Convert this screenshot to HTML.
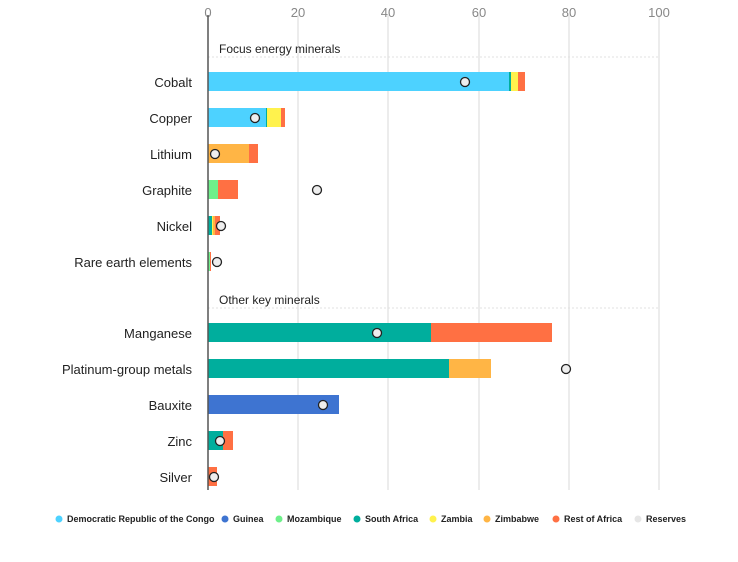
<!DOCTYPE html>
<html><head><style>body{margin:0;background:#fff}svg{display:block;font-family:"Liberation Sans",sans-serif}</style></head><body>
<svg width="738" height="562" viewBox="0 0 738 562">
<g stroke="#e6e6e6" stroke-width="1.5">
<line x1="298" y1="15" x2="298" y2="490"/><line x1="388" y1="15" x2="388" y2="490"/><line x1="479" y1="15" x2="479" y2="490"/><line x1="569" y1="15" x2="569" y2="490"/><line x1="659" y1="15" x2="659" y2="490"/>
</g>
<g stroke="#e0e0e0" stroke-dasharray="2,2"><line x1="208" y1="57" x2="659" y2="57"/><line x1="208" y1="308" x2="659" y2="308"/></g>
<g font-size="13" fill="#888" text-anchor="middle"><text x="208" y="17">0</text><text x="298" y="17">20</text><text x="388" y="17">40</text><text x="479" y="17">60</text><text x="569" y="17">80</text><text x="659" y="17">100</text></g>
<g font-size="12" fill="#222"><text x="219" y="53">Focus energy minerals</text><text x="219" y="304">Other key minerals</text></g>
<g font-size="13" fill="#222" text-anchor="end">
<text x="192" y="87">Cobalt</text><text x="192" y="123">Copper</text><text x="192" y="159">Lithium</text><text x="192" y="195">Graphite</text><text x="192" y="231">Nickel</text><text x="192" y="267">Rare earth elements</text>
<text x="192" y="338">Manganese</text><text x="192" y="374">Platinum-group metals</text><text x="192" y="410">Bauxite</text><text x="192" y="446">Zinc</text><text x="192" y="482">Silver</text></g>
<g>
<rect x="208" y="72" width="301" height="19" fill="#4dd2ff"/><rect x="509" y="72" width="2" height="19" fill="#00ae9d"/><rect x="511" y="72" width="7" height="19" fill="#fff24d"/><rect x="518" y="72" width="7" height="19" fill="#ff7043"/>
<rect x="208" y="108" width="58" height="19" fill="#4dd2ff"/><rect x="266" y="108" width="1" height="19" fill="#00ae9d"/><rect x="267" y="108" width="14" height="19" fill="#fff24d"/><rect x="281" y="108" width="4" height="19" fill="#ff7043"/>
<rect x="208" y="144" width="41" height="19" fill="#ffb545"/><rect x="249" y="144" width="9" height="19" fill="#ff7043"/>
<rect x="208" y="180" width="10" height="19" fill="#6ef08a"/><rect x="218" y="180" width="20" height="19" fill="#ff7043"/>
<rect x="208" y="216" width="4" height="19" fill="#00ae9d"/><rect x="212" y="216" width="1" height="19" fill="#fff24d"/><rect x="213" y="216" width="2" height="19" fill="#ffb545"/><rect x="215" y="216" width="5" height="19" fill="#ff7043"/>
<rect x="208" y="252" width="2" height="19" fill="#6ef08a"/><rect x="210" y="252" width="1" height="19" fill="#ff7043"/>
<rect x="208" y="323" width="223" height="19" fill="#00ae9d"/><rect x="431" y="323" width="121" height="19" fill="#ff7043"/>
<rect x="208" y="359" width="241" height="19" fill="#00ae9d"/><rect x="449" y="359" width="42" height="19" fill="#ffb545"/>
<rect x="208" y="395" width="131" height="19" fill="#3e74d1"/>
<rect x="208" y="431" width="15" height="19" fill="#00ae9d"/><rect x="223" y="431" width="10" height="19" fill="#ff7043"/>
<rect x="208" y="467" width="9" height="19" fill="#ff7043"/>
</g>
<line x1="208" y1="15" x2="208" y2="490" stroke="#555" stroke-width="1.5"/>
<g fill="#eee" stroke="#222" stroke-width="1.3">
<circle cx="465" cy="82" r="4.5"/><circle cx="255" cy="118" r="4.5"/><circle cx="215" cy="154" r="4.5"/><circle cx="317" cy="190" r="4.5"/><circle cx="221" cy="226" r="4.5"/><circle cx="217" cy="262" r="4.5"/>
<circle cx="377" cy="333" r="4.5"/><circle cx="566" cy="369" r="4.5"/><circle cx="323" cy="405" r="4.5"/><circle cx="220" cy="441" r="4.5"/><circle cx="214" cy="477" r="4.5"/>
</g>
<g font-size="9" font-weight="bold" fill="#222">
<circle cx="59" cy="519" r="3.5" fill="#4dd2ff"/><text x="67" y="522">Democratic Republic of the Congo</text>
<circle cx="225" cy="519" r="3.5" fill="#3e74d1"/><text x="233" y="522">Guinea</text>
<circle cx="279" cy="519" r="3.5" fill="#6ef08a"/><text x="287" y="522">Mozambique</text>
<circle cx="357" cy="519" r="3.5" fill="#00ae9d"/><text x="365" y="522">South Africa</text>
<circle cx="433" cy="519" r="3.5" fill="#fff24d"/><text x="441" y="522">Zambia</text>
<circle cx="487" cy="519" r="3.5" fill="#ffb545"/><text x="495" y="522">Zimbabwe</text>
<circle cx="556" cy="519" r="3.5" fill="#ff7043"/><text x="564" y="522">Rest of Africa</text>
<circle cx="638" cy="519" r="3.5" fill="#e6e6e6"/><text x="646" y="522">Reserves</text>
</g>
</svg>
</body></html>
